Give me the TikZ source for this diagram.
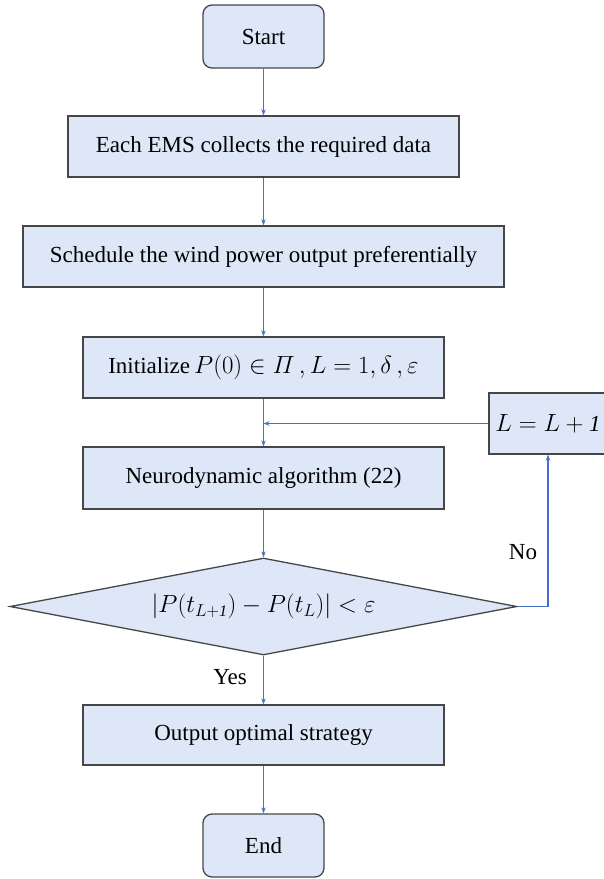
\documentclass[tikz,border=0pt]{standalone}
\usepackage{amsmath}
\usepackage{fontspec}
\setmainfont{Liberation Serif}
\usetikzlibrary{shapes.geometric,arrows.meta}

\definecolor{boxfill}{RGB}{221,231,247}
\definecolor{boxline}{RGB}{70,70,72}
\definecolor{flow}{RGB}{72,112,196}

\begin{document}
\begin{tikzpicture}[x=1pt,y=-1pt,
  every node/.style={font=\fontsize{23}{27}\selectfont},
  terminal/.style={draw=boxline,fill=boxfill,line width=1.3pt,rounded corners=9pt,
    minimum width=121pt,minimum height=63pt,inner sep=0pt},
  procbox/.style={draw=boxline,fill=boxfill,line width=1.3pt,
    minimum height=61pt,inner sep=0pt},
  decision/.style={draw=boxline,fill=boxfill,line width=1.3pt,diamond,aspect=5.2,
    minimum width=507pt,minimum height=97pt,inner sep=0pt},
  flowline/.style={draw=flow,line width=1.3pt,-{Stealth[length=6pt,width=4.5pt]}},
  tag/.style={inner sep=1pt}
]
\useasboundingbox (0,0) rectangle (604,879);

% main column
\node[terminal] (start) at (263.5,36.5) {Start};
\node[procbox,minimum width=391pt] (collect) at (263.5,146.5) {Each EMS collects the required data};
\node[procbox,minimum width=481pt] (wind) at (263.5,256.5) {Schedule the wind power output preferentially};
\node[procbox,minimum width=361pt] (init) at (263.5,367.5)
  {Initialize$\,P(0)\in\varPi\,,L=1,\delta\,,\varepsilon$};
\node[procbox,minimum width=361pt,minimum height=62pt] (neuro) at (263.5,478) {Neurodynamic algorithm (22)};
\node[decision] (check) at (263.5,606.5)
  {$\lvert P(t_{L+\mathit{1}})-P(t_{L})\rvert<\varepsilon$};
\node[procbox,minimum width=361pt,minimum height=60pt] (output) at (263.5,735) {Output optimal strategy};
\node[terminal] (finish) at (263.5,845.5) {End};

% iteration counter
\node[procbox,minimum width=118pt] (incr) at (548,423.5) {$L=L+\mathit{1}$};

% labels
\node[tag] (nolbl) at (523,552) {No};
\node[tag] (yeslbl) at (230,677) {Yes};

% connectors
\draw[flowline] (start) -- (collect);
\draw[flowline] (collect) -- (wind);
\draw[flowline] (wind) -- (init);
\draw[flowline] (init) -- (neuro);
\draw[flowline] (neuro) -- (check);
\draw[flowline] (check) -- (output);
\draw[flowline] (output) -- (finish);
\draw[flowline] (incr.west) -- (incr.west -| init.south);
\draw[flowline] (check.east) -- (check.east -| incr.south) -- (incr.south);
\end{tikzpicture}
\end{document}
